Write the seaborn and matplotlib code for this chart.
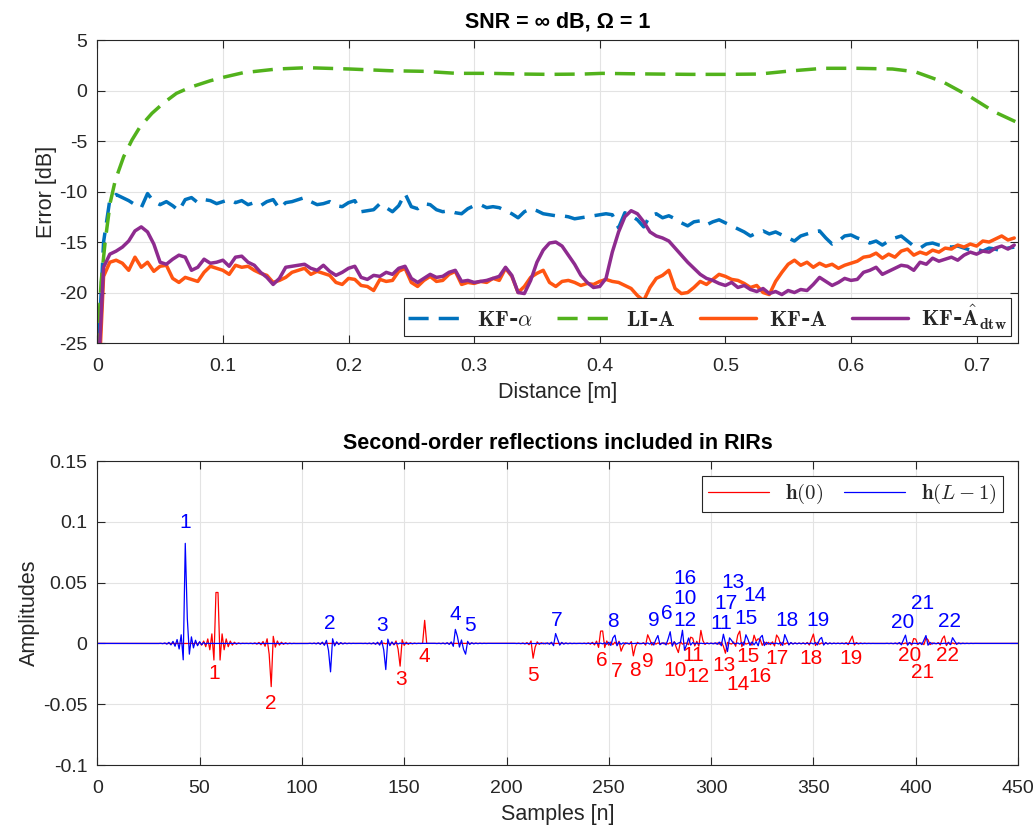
import numpy as np
import pandas as pd
import matplotlib
matplotlib.use("Agg")
import matplotlib.pyplot as plt
from matplotlib.ticker import FuncFormatter
from matplotlib.font_manager import FontProperties
import seaborn as sns

# ---------------- top panel data ----------------
dist = np.round(np.arange(0, 0.7351, 0.005), 3)[:147]

err_kf_alpha = [-28, -15, -10.8, -10.3, -10.6, -10.9, -11.3, -11.6, -10.2, -11.0,
                -11.3, -11.0, -11.4, -11.9, -10.8, -10.6, -11.1, -10.8, -10.9, -11.2,
                -11.0, -10.8, -11.1, -10.9, -11.3, -11.1, -11.4, -11.0, -10.8, -11.7,
                -11.1, -11.0, -10.8, -10.6, -11.0, -11.3, -11.2, -11.0, -11.4, -11.5,
                -11.1, -10.9, -12.0, -11.9, -11.8, -11.2, -11.6, -12.0, -11.4, -10.2,
                -11.5, -11.7, -11.2, -11.3, -11.8, -12.0, -11.9, -12.1, -12.2, -11.7,
                -11.4, -11.3, -11.6, -11.5, -11.6, -11.9, -12.2, -12.6, -12.0, -11.7,
                -11.9, -12.2, -12.3, -12.4, -12.4, -12.5, -12.7, -12.6, -12.5, -12.4,
                -12.3, -12.2, -12.3, -13.6, -12.1, -12.4, -12.8, -13.5, -12.4, -12.2,
                -12.6, -12.4, -12.7, -13.1, -13.4, -13.0, -12.9, -13.3, -13.0, -12.8,
                -13.1, -13.4, -13.7, -14.0, -14.4, -14.1, -13.9, -14.2, -14.0, -14.3,
                -14.6, -14.9, -14.4, -14.2, -14.0, -13.9, -14.6, -15.2, -14.9, -14.4,
                -14.3, -14.6, -14.8, -15.1, -14.9, -15.3, -14.9, -14.6, -14.4, -14.9,
                -15.4, -15.6, -15.2, -15.1, -15.3, -15.4, -15.5, -15.4, -15.6, -15.8,
                -15.7, -15.9, -15.6, -15.7, -15.9, -15.6, -15.5]

err_kf_a = [-32, -18.4, -17.0, -16.8, -17.1, -17.8, -16.5, -17.5, -17.0, -17.9,
            -17.4, -17.3, -18.6, -19.0, -18.5, -18.7, -18.9, -18.0, -17.4, -17.6,
            -17.8, -18.2, -17.3, -17.5, -17.4, -17.8, -18.1, -18.3, -19.0, -18.8,
            -18.5, -18.0, -17.8, -17.6, -18.2, -17.9, -18.1, -18.3, -19.0, -19.2,
            -18.6, -18.7, -19.3, -19.4, -19.8, -18.7, -18.9, -18.8, -17.9, -17.6,
            -19.0, -19.4, -18.8, -18.4, -18.9, -18.8, -18.2, -17.9, -19.2, -19.0,
            -19.1, -18.9, -19.0, -18.6, -18.8, -17.6, -18.4, -20.0, -19.4, -18.5,
            -18.1, -17.8, -19.0, -19.4, -18.9, -18.8, -19.0, -19.3, -19.1, -19.2,
            -18.9, -18.7, -18.9, -19.0, -19.3, -19.6, -20.3, -20.8, -19.5, -18.6,
            -18.3, -17.8, -19.6, -20.1, -20.0, -19.5, -18.9, -19.2, -18.7, -18.2,
            -18.4, -18.7, -18.8, -19.1, -19.5, -19.3, -20.0, -20.2, -18.9, -18.0,
            -17.2, -16.8, -17.3, -17.0, -17.5, -17.1, -17.4, -17.2, -17.6, -17.3,
            -17.1, -16.9, -16.5, -16.4, -16.1, -16.6, -16.2, -16.5, -15.9, -15.7,
            -16.3, -16.0, -16.2, -15.8, -16.0, -15.6, -15.7, -15.3, -15.5, -15.2,
            -15.4, -14.9, -15.0, -14.7, -14.4, -14.8, -14.6]

err_kf_dtw = [-30, -17.5, -16.2, -15.9, -15.5, -14.9, -13.9, -13.5, -14.0, -15.2,
              -17.0, -17.2, -16.7, -16.3, -16.5, -17.8, -17.5, -16.7, -17.1, -17.0,
              -16.8, -17.4, -16.5, -16.4, -17.0, -17.3, -18.0, -18.5, -19.2, -18.6,
              -17.5, -17.4, -17.3, -17.2, -17.6, -17.8, -17.3, -17.9, -18.3, -18.0,
              -17.6, -17.4, -18.5, -18.7, -18.3, -18.4, -18.0, -18.2, -17.6, -17.4,
              -18.6, -19.0, -18.6, -18.2, -18.5, -18.4, -18.0, -17.8, -18.9, -18.8,
              -19.0, -18.9, -18.8, -18.6, -18.4, -17.5, -18.3, -20.0, -20.1, -18.8,
              -17.0, -15.8, -15.1, -15.0, -15.4, -16.3, -17.2, -18.3, -19.0, -19.5,
              -19.4, -18.6, -16.0, -14.0, -12.5, -11.9, -12.2, -13.0, -14.0, -14.4,
              -14.6, -14.9, -15.6, -16.3, -17.0, -17.6, -18.2, -18.6, -18.8, -19.1,
              -19.3, -19.0, -19.5, -19.3, -19.7, -19.9, -19.6, -20.1, -19.9, -20.2,
              -19.8, -20.0, -19.7, -19.8, -19.2, -18.5, -18.9, -19.3, -19.0, -18.6,
              -18.8, -18.7, -18.0, -17.8, -17.5, -18.2, -17.9, -17.6, -17.3, -17.4,
              -17.8, -17.0, -17.2, -16.6, -16.9, -16.7, -16.5, -16.8, -16.3, -16.0,
              -16.2, -15.9, -16.0, -15.6, -15.4, -15.7, -15.3]

dist_li = [0.0, 0.003, 0.0064, 0.0103, 0.0143, 0.021, 0.0276, 0.034, 0.0435, 0.0526,
           0.063, 0.074, 0.09, 0.10, 0.116, 0.143, 0.167, 0.201, 0.233, 0.26,
           0.286, 0.313, 0.339, 0.36, 0.387, 0.402, 0.43, 0.472, 0.50, 0.527,
           0.551, 0.578, 0.605, 0.633, 0.651, 0.673, 0.695, 0.714, 0.733]
err_li = [-26, -19, -14.8, -11.1, -8.9, -6.55, -4.9, -3.6, -2.26, -1.25,
          -0.28, 0.32, 0.97, 1.3, 1.76, 2.13, 2.26, 2.13, 1.96, 1.9,
          1.7, 1.7, 1.63, 1.6, 1.63, 1.7, 1.65, 1.6, 1.6, 1.63,
          1.93, 2.2, 2.2, 2.13, 1.86, 0.87, -0.62, -2.1, -3.2]

# ---------------- bottom panel data (reflection arrivals) ----------------
refl_id = list(range(1, 23))
red_pos = [58.5, 84.8, 147.8, 160.0, 213.2, 246.5, 256.3, 262.2, 269.3, 283.7, 290.4,
           295.2, 306.8, 313.6, 321.3, 323.3, 332.4, 349.7, 368.7, 399.5, 405.4, 413.6]
red_amp = [0.066, -0.038, -0.02, 0.019, -0.013, 0.016, -0.007, -0.011, 0.0085, -0.009, 0.0075,
           0.011, -0.009, 0.0135, 0.0075, 0.006, 0.009, 0.009, 0.007, 0.006, 0.006, 0.008]
blue_pos = [43.2, 113.8, 140.8, 175.3, 179.7, 279.7, 224.3, 252.6, 273.7, 287.6, 306.3,
            285.8, 309.6, 324.6, 317.3, 288.6, 307.6, 336.3, 353.6, 394.7, 404.7, 418.3]
blue_amp = [0.088, -0.025, -0.023, 0.014, -0.011, 0.011, 0.0095, 0.009, 0.008, -0.006, 0.008,
            0.0095, 0.005, 0.009, 0.0085, 0.005, -0.006, 0.0085, 0.0065, 0.008, 0.0075, 0.0055]

# label anchor points (sample, amplitude) for the reflection numbers
red_lbl_n = [57, 84.9, 148.4, 159.8, 213, 246.4, 254, 262.7, 269.2, 282.2, 291.2,
             293.6, 306.2, 313.2, 318, 323.7, 332.2, 348.7, 368.2, 397, 403.5, 415.3]
red_lbl_a = [-0.0246, -0.049, -0.030, -0.011, -0.026, -0.0137, -0.0227, -0.022, -0.015, -0.022, -0.0096,
             -0.027, -0.018, -0.034, -0.011, -0.027, -0.012, -0.012, -0.012, -0.010, -0.024, -0.010]
blue_lbl_n = [42.8, 113.7, 139.4, 174.9, 182, 278.2, 224.4, 252.1, 272, 287.3, 305,
              287.3, 310.7, 321.3, 317.2, 287.3, 307.5, 337.3, 352.2, 393.4, 403.5, 416.6]
blue_lbl_a = [0.0997, 0.016, 0.0145, 0.024, 0.015, 0.025, 0.019, 0.018, 0.019, 0.037, 0.016,
              0.019, 0.050, 0.0396, 0.0205, 0.053, 0.033, 0.019, 0.019, 0.017, 0.033, 0.018]

n_samples = np.arange(0, 451)


def rir(pos, amp, half=15):
    # fractional-delay arrivals rendered with a Hann-windowed sinc
    h = np.zeros(len(n_samples))
    for c, a in zip(pos, amp):
        d = n_samples - c
        w = np.where(np.abs(d) < half, 0.5 * (1 + np.cos(np.pi * d / half)), 0.0)
        h += a * np.sinc(d) * w
    return h


h_first = rir(red_pos, red_amp)
h_last = rir(blue_pos, blue_amp)

# ---------------- style ----------------
sns.set_style("ticks")
plt.rcParams["font.family"] = ["Liberation Sans", "DejaVu Sans"]
plt.rcParams["mathtext.fontset"] = "cm"
plt.rcParams["axes.unicode_minus"] = False

c_blue = "#0072BD"
c_green = "#52B21C"
c_orange = "#FF5511"
c_purple = "#8E2B8F"
txt = "#262626"


def style_axes(ax):
    ax.grid(True, color="#E3E3E3", lw=0.8)
    ax.set_axisbelow(True)
    for s in ax.spines.values():
        s.set_color(txt)
        s.set_linewidth(0.8)
    ax.tick_params(direction="in", length=6, width=0.8, colors=txt, labelsize=14,
                   top=True, right=True)
    ax.tick_params(axis="x", pad=11)
    ax.tick_params(axis="y", pad=7)
    ax.xaxis.set_major_formatter(FuncFormatter(lambda v, _: f"{v:g}"))
    ax.yaxis.set_major_formatter(FuncFormatter(lambda v, _: f"{v:g}"))


fig = plt.figure(figsize=(10.35, 8.32), dpi=100)
ax1 = fig.add_axes([0.094, 0.5877, 0.8896, 0.3642])
ax2 = fig.add_axes([0.094, 0.0805, 0.8896, 0.3654])

# ---------------- top panel ----------------
sns.lineplot(x=dist, y=err_kf_alpha, ax=ax1, color=c_blue, lw=2.5, label="kfa")
ax1.lines[-1].set_dashes((5.8, 2.9))
sns.lineplot(x=dist_li, y=err_li, ax=ax1, color=c_green, lw=2.5, label="li")
ax1.lines[-1].set_dashes((5.8, 2.9))
sns.lineplot(x=dist, y=err_kf_a, ax=ax1, color=c_orange, lw=2.5, label="kf")
sns.lineplot(x=dist, y=err_kf_dtw, ax=ax1, color=c_purple, lw=2.5, label="dtw")

ax1.set_xlim(0, 0.733)
ax1.set_ylim(-25, 5)
ax1.set_xticks(np.arange(0, 0.71, 0.1))
ax1.set_yticks(np.arange(-25, 6, 5))
style_axes(ax1)
ax1.set_title("SNR = ∞ dB, Ω = 1", fontsize=15.5, fontweight="bold", color="black", pad=9)
ax1.set_xlabel("Distance [m]", fontsize=15.5, color=txt, labelpad=5)
ax1.set_ylabel("Error [dB]", fontsize=15.5, color=txt, labelpad=2)

leg_font = FontProperties(family="DejaVu Serif", weight="bold", size=16)
ax1.legend(ax1.lines,
           [r"$\mathbf{KF}$-$\alpha$", r"$\mathbf{LI}$-$\mathbf{A}$",
            r"$\mathbf{KF}$-$\mathbf{A}$", r"$\mathbf{KF}$-$\hat{\mathbf{A}}_{\mathbf{dtw}}$"],
           loc="lower right", ncol=4, prop=leg_font, frameon=True, fancybox=False,
           edgecolor=txt, framealpha=1, handlelength=2.5, handletextpad=0.6,
           columnspacing=1.1, borderaxespad=0.3, borderpad=0.2)
ax1.get_legend().get_frame().set_linewidth(0.8)

# ---------------- bottom panel ----------------
sns.lineplot(x=n_samples, y=h_first, ax=ax2, color="#FF0000", lw=0.9, label="h0")
sns.lineplot(x=n_samples, y=h_last, ax=ax2, color="#0000FF", lw=0.9, label="hL")

for k, n, a in zip(refl_id, red_lbl_n, red_lbl_a):
    ax2.text(n, a, str(k), color="#FF0000", fontsize=15, ha="center", va="center")
for k, n, a in zip(refl_id, blue_lbl_n, blue_lbl_a):
    ax2.text(n, a, str(k), color="#0000FF", fontsize=15, ha="center", va="center")

ax2.set_xlim(0, 450)
ax2.set_ylim(-0.1, 0.15)
ax2.set_xticks(np.arange(0, 451, 50))
ax2.set_yticks(np.arange(-0.1, 0.151, 0.05))
style_axes(ax2)
ax2.set_title("Second-order reflections included in RIRs", fontsize=15.5,
              fontweight="bold", color="black", pad=9)
ax2.set_xlabel("Samples [n]", fontsize=15.5, color=txt, labelpad=5)
ax2.set_ylabel("Amplitudes", fontsize=15.5, color=txt, labelpad=2)

ax2.legend(ax2.lines[:2], [r"$\mathbf{h}(0)$", r"$\mathbf{h}(L-1)$"],
           loc="upper right", ncol=2, prop=FontProperties(size=15), frameon=True,
           fancybox=False, edgecolor=txt, framealpha=1, handlelength=2.9,
           handletextpad=0.8, columnspacing=1.0, borderaxespad=0.7, borderpad=0.3)
ax2.get_legend().get_frame().set_linewidth(0.8)

fig.savefig("out.png", dpi=100)
